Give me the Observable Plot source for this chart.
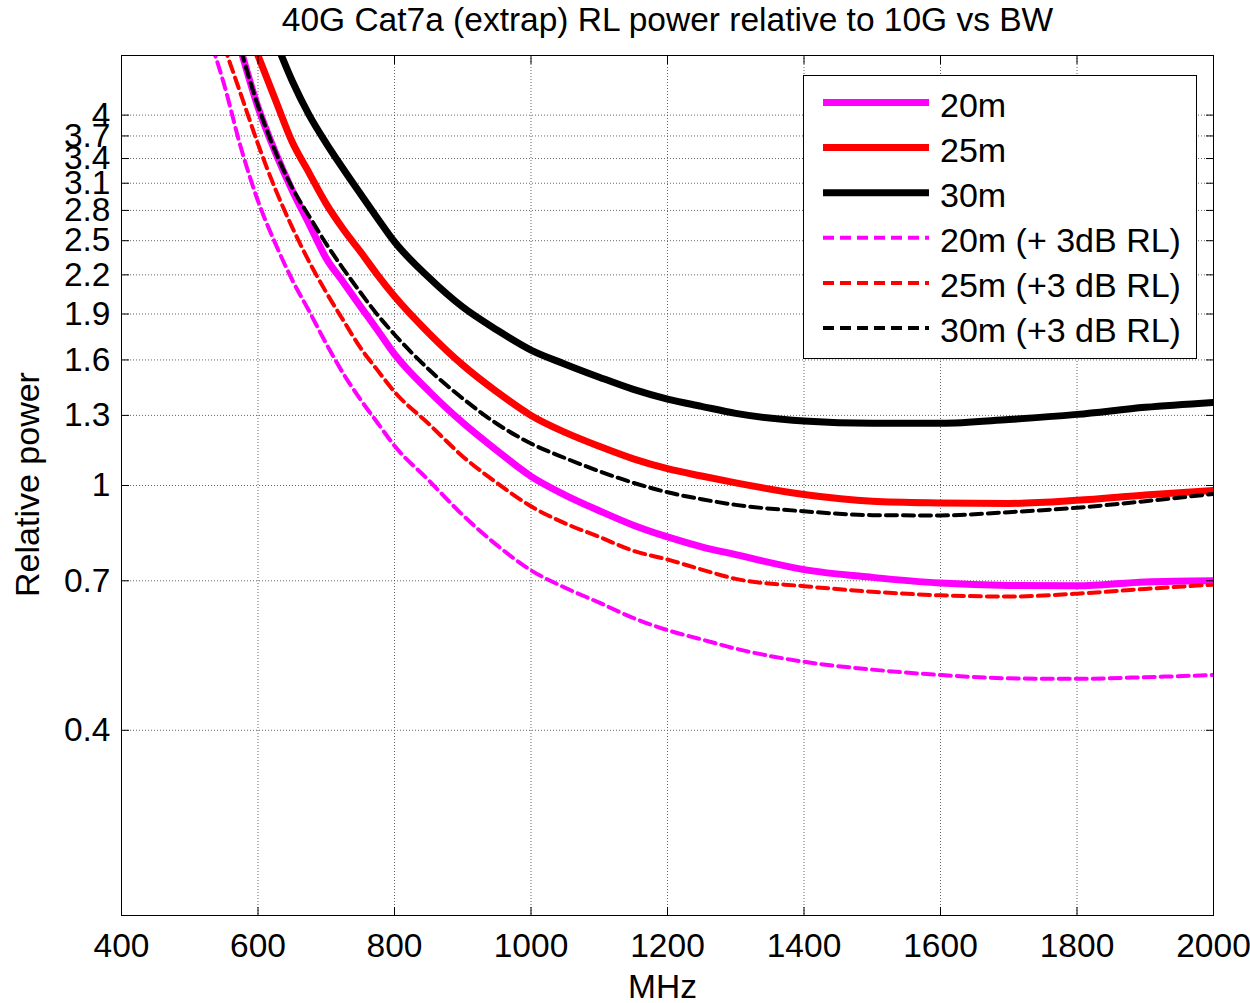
<!DOCTYPE html>
<html><head><meta charset="utf-8">
<script src="https://cdn.jsdelivr.net/npm/d3@7"></script>
<script src="https://cdn.jsdelivr.net/npm/@observablehq/plot@0.6"></script>
<style>
html,body{margin:0;padding:0;background:#fff;}
#wrap{position:relative;width:1250px;height:1003px;overflow:hidden;background:#fff;}
</style></head><body><div id="wrap"></div>
<script>
// ---- data ----
const MHz = [525, 550, 575, 600, 625, 650, 675, 700, 725, 750, 775, 800, 850, 900, 950, 1000, 1050, 1100, 1150, 1200, 1250, 1300, 1400, 1500, 1600, 1700, 1800, 1900, 2000];
const rl20  = [null, null, 5.1, 4.12, 3.49, 3.02, 2.66, 2.34, 2.14, 1.955, 1.79, 1.635, 1.425, 1.265, 1.14, 1.035, 0.965, 0.91, 0.862, 0.825, 0.795, 0.772, 0.730, 0.709, 0.694, 0.688, 0.687, 0.697, 0.700];
const rl25  = [null, null, 5.9, 5.0, 4.25, 3.62, 3.22, 2.87, 2.61, 2.40, 2.20, 2.03, 1.77, 1.57, 1.42, 1.30, 1.22, 1.158, 1.105, 1.065, 1.036, 1.01, 0.967, 0.943, 0.937, 0.935, 0.946, 0.965, 0.982];
const rl30  = [null, null, null, 6.2, 5.3, 4.55, 4.0, 3.6, 3.27, 2.98, 2.72, 2.49, 2.18, 1.95, 1.79, 1.66, 1.575, 1.50, 1.433, 1.382, 1.345, 1.31, 1.273, 1.262, 1.262, 1.28, 1.305, 1.34, 1.365];
const rl20d = [5.5, 4.5, 3.54, 2.90, 2.48, 2.16, 1.92, 1.70, 1.52, 1.38, 1.265, 1.16, 1.02, 0.895, 0.80, 0.728, 0.682, 0.645, 0.609, 0.582, 0.562, 0.543, 0.517, 0.502, 0.492, 0.486, 0.485, 0.488, 0.492];
const rl25d = [null, 5.19, 4.32, 3.59, 3.04, 2.63, 2.31, 2.06, 1.855, 1.675, 1.54, 1.42, 1.26, 1.115, 1.01, 0.925, 0.868, 0.825, 0.783, 0.758, 0.73, 0.705, 0.686, 0.672, 0.663, 0.660, 0.667, 0.679, 0.690];
const rl30d = [null, null, 5.1, 4.14, 3.5, 3.05, 2.74, 2.47, 2.25, 2.06, 1.895, 1.76, 1.545, 1.385, 1.26, 1.17, 1.108, 1.055, 1.01, 0.975, 0.95, 0.93, 0.908, 0.895, 0.894, 0.905, 0.920, 0.943, 0.969];

const seriesNames  = ["20m", "25m", "30m", "20m (+ 3dB RL)", "25m (+3 dB RL)", "30m (+3 dB RL)"];
const seriesValues = [rl20, rl25, rl30, rl20d, rl25d, rl30d];
const seriesColors = ["#ff00ff", "#ff0000", "#000000", "#ff00ff", "#ff0000", "#000000"];
const seriesDashed = [false, false, false, true, true, true];

const xTicks = [400, 600, 800, 1000, 1200, 1400, 1600, 1800, 2000];
const yTicks = [0.4, 0.7, 1, 1.3, 1.6, 1.9, 2.2, 2.5, 2.8, 3.1, 3.4, 3.7, 4];
const titleText = "40G Cat7a (extrap) RL power relative to 10G vs BW";
const xLabel = "MHz";
const yLabel = "Relative power";

// ---- build table ----
const rows = [];
seriesNames.forEach((name, i) => MHz.forEach((m, j) => rows.push({series: name, mhz: m, value: seriesValues[i][j]})));

const font = "'Liberation Sans', Arial, Helvetica, sans-serif";
const FS = 33.5;
const solidW = 7, dashW = 4, dashPat = "11,6";

const gridStyle = {stroke: "#555", strokeOpacity: 0.9, strokeDasharray: "1,2", strokeWidth: 1};

const lineMarks = seriesNames.map((name, i) => Plot.line(rows.filter(r => r.series === name), {
  x: "mhz", y: "value",
  stroke: seriesColors[i],
  strokeWidth: seriesDashed[i] ? dashW : solidW,
  strokeDasharray: seriesDashed[i] ? dashPat : null,
  curve: "monotone-x",
  clip: true
}));

const chart = Plot.plot({
  width: 1250, height: 1003,
  marginLeft: 121, marginRight: 37, marginTop: 55, marginBottom: 88,
  style: {fontFamily: font, fontSize: FS + "px", color: "#000", background: "#fff", overflow: "visible"},
  x: {domain: [400, 2000]},
  y: {type: "log", domain: [0.2, 5]},
  marks: [
    Plot.gridX(xTicks.slice(1, -1), gridStyle),
    Plot.gridY(yTicks, gridStyle),
    ...lineMarks,
    Plot.frame({stroke: "#000", strokeWidth: 1}),
    Plot.axisX(xTicks, {anchor: "bottom", tickSize: 0, tickPadding: 18, tickFormat: d => String(d), label: null, fontSize: FS}),
    Plot.axisX(xTicks, {anchor: "bottom", tickSize: 8, dy: -8, fill: "none", label: null}),
    Plot.axisX(xTicks, {anchor: "top", tickSize: 8, dy: 8, fill: "none", label: null}),
    Plot.axisY(yTicks, {anchor: "left", tickSize: 0, tickPadding: 11, tickFormat: d => String(d), label: null, fontSize: FS}),
    Plot.axisY(yTicks, {anchor: "left", tickSize: 8, dx: 8, fill: "none", label: null}),
    Plot.axisY(yTicks, {anchor: "right", tickSize: 8, dx: -8, fill: "none", label: null}),
    Plot.text([titleText], {frameAnchor: "top", dy: -35, text: d => d, fontSize: FS, lineAnchor: "middle", textAnchor: "middle"}),
    Plot.text([xLabel], {frameAnchor: "bottom", dy: 72, dx: -5, text: d => d, fontSize: FS, lineAnchor: "middle", textAnchor: "middle"}),
    Plot.text([yLabel], {frameAnchor: "left", dx: -93, dy: -1, rotate: -90, text: d => d, fontSize: 34, lineAnchor: "middle", textAnchor: "middle"})
  ]
});
document.getElementById("wrap").appendChild(chart);

// ---- legend box (MATLAB style, inside the axes) ----
const leg = d3.select("#wrap").append("svg")
  .attr("width", 396).attr("height", 286)
  .style("position", "absolute").style("left", "803px").style("top", "75px")
  .style("font-family", font);
leg.append("rect").attr("x", 0.5).attr("y", 0.5).attr("width", 393).attr("height", 283)
  .attr("fill", "#fff").attr("stroke", "#000").attr("stroke-width", 1);
seriesNames.forEach((name, i) => {
  const y = 27.5 + i * 45.1;
  leg.append("line").attr("x1", 20).attr("x2", 126).attr("y1", y).attr("y2", y)
    .attr("stroke", seriesColors[i])
    .attr("stroke-width", seriesDashed[i] ? dashW : solidW)
    .attr("stroke-dasharray", seriesDashed[i] ? dashPat : null);
  leg.append("text").attr("x", 137).attr("y", y + 14).attr("font-size", 34).attr("fill", "#000").text(name);
});
</script>
</body></html>
